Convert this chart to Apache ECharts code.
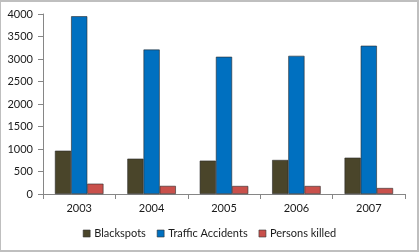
<!DOCTYPE html>
<html>
<head>
<meta charset="utf-8">
<script src="https://cdn.jsdelivr.net/npm/echarts@6/dist/echarts.min.js"></script>
<style>
html,body{margin:0;padding:0;background:#fff;}
#wrap{position:absolute;left:0;top:0;width:419px;height:252px;box-sizing:border-box;border-style:solid;border-color:#bfbfbf;border-width:2px 2px 2px 1px;}
#c{position:absolute;left:0;top:0;width:419px;height:252px;}
</style>
</head>
<body>
<div id="c"></div>
<div id="wrap"></div>
<script>
const categories = ['2003','2004','2005','2006','2007'];
const blackspots = [962, 785, 741, 756, 807];
const trafficAccidents = [3950, 3210, 3050, 3070, 3295];
const personsKilled = [229, 180, 178, 178, 133];
const yTicks = [0, 500, 1000, 1500, 2000, 2500, 3000, 3500, 4000];

const chart = echarts.init(document.getElementById('c'), null, {renderer:'canvas'});
const font = 'Lato, "Open Sans", sans-serif';
function bar(name, data, color){
  return {name, type:'bar', data, barGap:'0%', barCategoryGap:'33%',
    itemStyle:{color, borderColor:'#2a2a2a', borderWidth:0.6}};
}
chart.setOption({
  animation:false,
  grid:{left:43, right:14, top:14, bottom:58, containLabel:false},
  legend:{bottom:8, left:'center', itemWidth:7, itemHeight:7, itemGap:11, icon:'rect',
    textStyle:{fontFamily:font, fontSize:11, color:'#1a1a1a', padding:[0,0,0,-1]},
    itemStyle:{borderColor:'#333', borderWidth:0.6}},
  xAxis:{type:'category', data:categories,
    axisLine:{lineStyle:{color:'#868686', width:1}},
    axisTick:{show:true, length:5, lineStyle:{color:'#868686'}},
    axisLabel:{fontFamily:font, fontSize:11, color:'#1a1a1a', margin:9}},
  yAxis:{type:'value', min:yTicks[0], max:yTicks[yTicks.length-1], interval:500,
    axisLine:{show:true, lineStyle:{color:'#868686', width:1}},
    axisTick:{show:true, length:5, lineStyle:{color:'#868686'}},
    splitLine:{show:false},
    axisLabel:{fontFamily:font, fontSize:11, color:'#1a1a1a', margin:10, formatter:v=>String(v)}},
  series:[
    bar('Blackspots', blackspots, '#4a452a'),
    bar('Traffic Accidents', trafficAccidents, '#0070c0'),
    bar('Persons killed', personsKilled, '#c9504b')
  ]
});
</script>
</body>
</html>
